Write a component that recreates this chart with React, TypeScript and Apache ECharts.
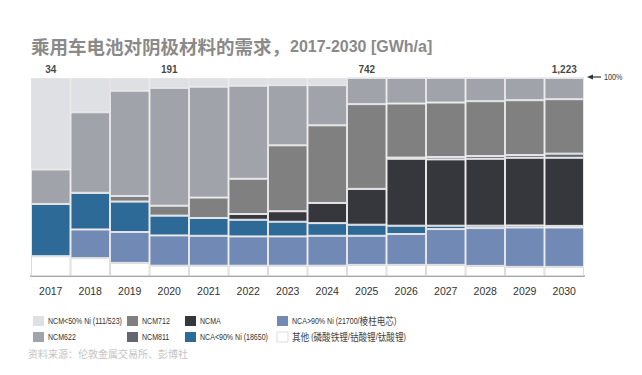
import React, { useEffect, useRef } from "react";
import * as echarts from "echarts";

const years = ["2017","2018","2019","2020","2021","2022","2023","2024","2025","2026","2027","2028","2029","2030"];

// shares in % (bottom to top in the stack)
const other     = [10.0, 9.0, 6.6, 5.2, 5.2, 5.2, 5.2, 5.2, 5.6, 5.6, 5.6, 5.1, 4.6, 4.6];
const ncaHigh   = [0, 14.5, 15.6, 15.3, 15.1, 14.8, 14.8, 15.1, 14.7, 15.6, 18.1, 19.1, 19.9, 19.9];
const ncaLow    = [26.4, 18.5, 15.4, 10.0, 9.0, 8.4, 7.4, 6.4, 5.6, 4.2, 1.7, 1.2, 1.0, 0.8];
const ncma      = [0, 0, 0, 0, 0, 2.9, 5.3, 10.2, 18.1, 33.8, 33.5, 33.8, 34.2, 34.4];
const ncm811    = [0, 0, 0, 0, 0, 0, 0, 0, 0, 0.6, 1.2, 1.4, 1.4, 2.1];
const ncm712    = [0, 0, 2.8, 5.0, 10.3, 17.8, 33.3, 39.2, 42.8, 27.3, 27.5, 27.7, 27.7, 27.5];
const ncm622    = [17.4, 40.7, 53.2, 59.5, 56.0, 47.0, 30.4, 20.3, 13.2, 12.9, 12.4, 11.7, 11.2, 10.7];
const ncmLow    = [46.2, 17.3, 6.4, 5.0, 4.4, 3.9, 3.6, 3.6, 0, 0, 0, 0, 0, 0];

// total demand labels (GWh/a)
const totals: (number | null)[] = [34, null, null, 191, null, null, null, null, 742, null, null, null, null, 1223];

const seriesNames = [
  "其他 (磷酸铁锂/钴酸锂/钛酸锂)",
  "NCA>90% Ni (21700/棱柱电芯)",
  "NCA<90% Ni (18650)",
  "NCMA",
  "NCM811",
  "NCM712",
  "NCM622",
  "NCM<50% Ni (111/523)",
];
const seriesData = [other, ncaHigh, ncaLow, ncma, ncm811, ncm712, ncm622, ncmLow];
const seriesColors = ["#ffffff", "#7189b5", "#2e6a97", "#36373c", "#62666e", "#808080", "#a0a4aa", "#dfe0e4"];

const SANS = "'Liberation Sans', Arial, sans-serif";

// wrap CJK runs in a rich-text style so they can be sized separately
const richName = (s: string) => s.replace(/([\u4e00-\u9fff]+)/g, "{z|$1}").replace(/(^|\})([^{}]+)(?=\{|$)/g, "$1{a|$2}");

export default function App() {
  const ref = useRef<HTMLDivElement>(null);
  useEffect(() => {
    if (!ref.current) return;
    const chart = echarts.init(ref.current, null, { renderer: "svg" });

    const bars = seriesNames.map((name, i) => ({
      name,
      type: "bar",
      stack: "all",
      barCategoryGap: "0%",
      data: seriesData[i],
      itemStyle: {
        color: seriesColors[i],
        borderColor: i === 0 ? "#dcdcdc" : "#e4e4e6",
        borderWidth: 1,
      },
      emphasis: { disabled: true },
    }));

    // hand-placed legend (two rows, four columns)
    const colLeft = [33, 127, 185, 277];
    const rowY = [321, 337];
    const legendEls: any[] = [];
    seriesNames.forEach((name, i) => {
      const k = seriesNames.length - 1 - i;
      const col = Math.floor(k / 2);
      const row = k % 2;
      legendEls.push({
        type: "rect",
        shape: { x: colLeft[col], y: rowY[row] - 5, width: 11, height: 10 },
        style: { fill: seriesColors[i], stroke: i === 0 ? "#d4d4d4" : null, lineWidth: 0.8 },
      });
      legendEls.push({
        type: "text",
        x: colLeft[col] + 15,
        y: rowY[row],
        scaleX: 0.82,
        style: {
          text: richName(name),
          verticalAlign: "middle",
          rich: {
            a: { fontSize: 8.6, fill: "#333", color: "#333", fontFamily: SANS },
            z: { fontSize: 10.5, fill: "#444", color: "#444", fontFamily: "'Noto Sans CJK SC', sans-serif" },
          },
        },
      });
    });

    chart.setOption({
      animation: false,
      grid: { left: 31, right: 58, top: 78, bottom: 99 },
      xAxis: {
        type: "category",
        data: years,
        axisLine: { lineStyle: { color: "#a8a8a8", width: 2 } },
        axisTick: { show: false },
        axisLabel: { color: "#333", fontSize: 10.5, margin: 9, fontFamily: SANS },
      },
      yAxis: { type: "value", min: 0, max: 100, show: false },
      series: [
        ...bars,
        {
          name: "totals",
          type: "scatter",
          symbolSize: 0,
          data: totals.map((t) => (t == null ? null : { value: 100, total: t })),
          label: {
            show: true,
            position: "top",
            distance: 4,
            fontSize: 10,
            fontWeight: "bold",
            color: "#111",
            fontFamily: SANS,
            formatter: (p: any) => (p.data && p.data.total != null ? p.data.total.toLocaleString("en-US") : ""),
          },
          emphasis: { disabled: true },
          z: 10,
        },
      ],
      graphic: [
        {
          type: "text",
          x: 31,
          y: 46,
          style: {
            text: "{c|乘用车电池对阴极材料的需求，}{l|2017-2030 [GWh/a]}",
            verticalAlign: "middle",
            rich: {
              c: { fontSize: 18.5, fontWeight: "bold", fill: "#8a8a8a", color: "#8a8a8a", fontFamily: "'Noto Sans CJK SC', sans-serif" },
              l: { fontSize: 16, fontWeight: "bold", fill: "#8a8a8a", color: "#8a8a8a", fontFamily: SANS },
            },
          },
        },
        {
          type: "polygon",
          shape: { points: [[587, 77], [593, 74.5], [593, 79.5]] },
          style: { fill: "#333" },
        },
        {
          type: "line",
          shape: { x1: 592, y1: 77, x2: 601, y2: 77 },
          style: { stroke: "#333", lineWidth: 1.2 },
        },
        {
          type: "text",
          x: 604,
          y: 77,
          scaleX: 0.85,
          style: {
            text: "100%",
            fontSize: 8.5,
            fill: "#333",
            verticalAlign: "middle",
            fontFamily: SANS,
          },
        },
        ...legendEls,
        {
          type: "text",
          x: 28,
          y: 353,
          style: {
            text: "资料来源：伦敦金属交易所、彭博社",
            fontSize: 10,
            fill: "#c4c4c4",
            verticalAlign: "middle",
            fontFamily: "'Noto Sans CJK SC', sans-serif",
          },
        },
      ],
    });
    return () => chart.dispose();
  }, []);
  return (
    <div
      ref={ref}
      style={{ position: "fixed", left: 0, top: 0, width: 642, height: 375, background: "#fff" }}
    />
  );
}
